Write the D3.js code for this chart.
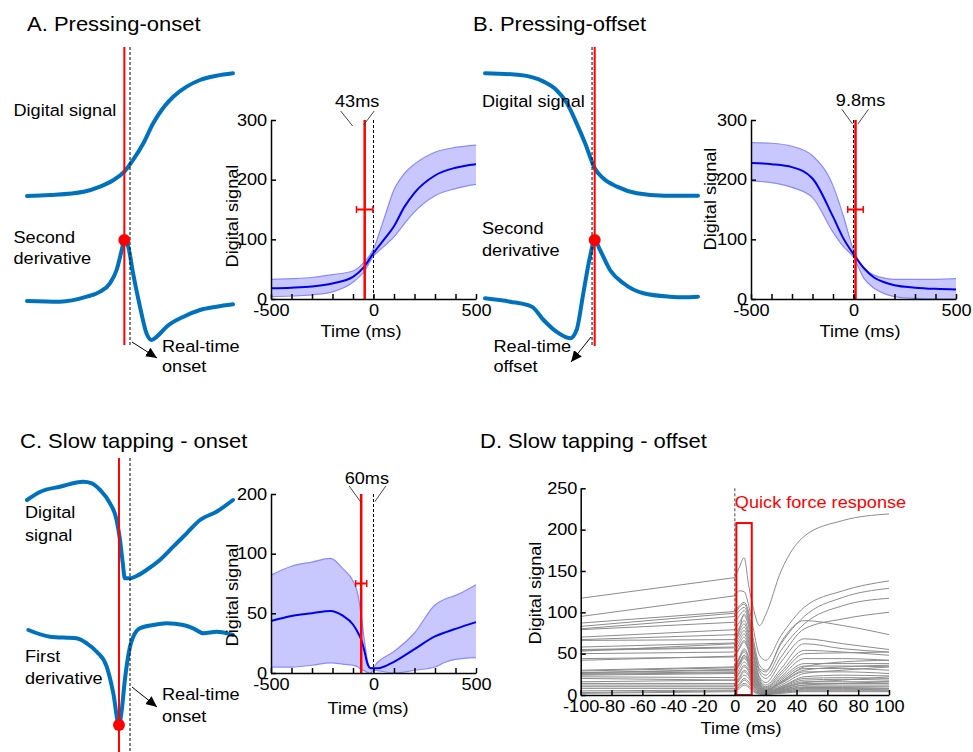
<!DOCTYPE html>
<html>
<head>
<meta charset="utf-8">
<script src="https://cdn.jsdelivr.net/npm/d3@7"></script>
<style>
  body { margin: 0; background: #fff; }
  text { font-family: "Liberation Sans", Arial, sans-serif; }
</style>
</head>
<body>
<svg id="fig" width="973" height="752"></svg>
<script>
// ---------------- data ----------------
// Schematic traces: [sample, amplitude 0-100]
const onsetSignal = [[0,0],[22,0.8],[55,3.5],[71,7.6],[84,13],[94.5,19.8],[103,29.3],[113,42.9],[122.5,59.1],[132,71.3],[142,80.7],[155,88.9],[168,94.3],[184,97.8],[200,99.8]];
const onsetSecondDeriv = [[0,39],[32,38.3],[58,43.3],[71,48.3],[80.5,56.7],[87,70],[92,90],[94.5,100],[98.3,93.3],[103,66.7],[109.7,33.3],[116,6.7],[121,0],[126,3.3],[135.5,13.3],[152,23.3],[168,30],[184,33.3],[200,35.7]];
const offsetSignal = [[0,99.8],[33,98.4],[55,93],[67,86.2],[77,75.4],[86,59.1],[94,42.9],[103,22.5],[111,14.4],[124,7.6],[142.5,2.2],[168,0.2],[200,0.2]];
const offsetSecondDeriv = [[0,41.7],[23.5,38.3],[44,33.3],[55,20],[67,8.3],[80,1.7],[86,10],[92.3,46.7],[98.6,83.3],[103,100],[108,90],[117.4,70],[130,56.7],[148.7,46.7],[173.7,43.3],[186,42.7],[200,43.3]];
const tapSignal = [[0,80],[13,88.3],[32,93.3],[54.7,98.3],[63,96.7],[71,90],[80.6,76.7],[87,60],[90.3,40],[93,16.7],[95,1.7],[100,1.7],[106.5,4],[116,10],[129,20],[142,33.3],[155,46.7],[168,60],[184,68.3],[200,80]];
const tapFirstDeriv = [[1.3,95],[22.3,88.3],[48,86.7],[58,81.7],[67.7,73.3],[77.4,58.3],[83.8,31.7],[89.3,0],[92,15],[95,45],[100,78.3],[103.2,88.3],[109.7,96.7],[122.6,100],[135.6,101.7],[151.7,100],[161.4,96.7],[171.1,91.7],[184.2,93.3],[200,90]];
// detection sample / real-time sample in each schematic
const schemDetect = [94.5, 103, 89.3];
const schemRealtime = [100, 100.5, 100];

// Averaged digital signal (mean and band) around the events
const pressTimes = [-500,-400,-300,-200,-100,-50,0,50,100,150,200,300,400,500];
const onsetMean  = [18,19,21,26,37,52,77,99,122,154,178,207,220,226];
const onsetUpper = [33,34,36,41,47,60,84,133,183,210,226,246,254,258];
const onsetLower = [4,5,7,12,28,44,72,88,104,126,146,173,185,192];
const offsetMean  = [228,226,221,202,138,102,75,52,36,28,23,19,17,16];
const offsetUpper = [262,261,256,240,190,140,82,52,40,35,33,33,33,34];
const offsetLower = [198,195,187,170,112,88,70,35,18,9,4,1,0,0];

const tapTimes = [-500,-400,-300,-210,-150,-100,-75,-60,-45,-30,-15,0,20,100,200,300,350,400,500];
const tapMean  = [43.5,47.7,50,52,48,40.6,33.5,28,19,8,4,4,4,9.4,20,30.7,34,37,42.6];
const tapUpper = [82,89.5,93,96,87.5,77,65,48,28,11,4.5,5,9,18,33.5,57,62,65,74];
const tapLower = [5,5,6.5,8.5,7.5,6.5,5,3,2,0.5,0,2.3,2,0,2.3,5,9,11.4,12.8];

// Detection delay (ms) and its spread, errorbar level
const delays = [-43, 9.8, -60];
const delaySpread = [40, 38, 27];
const errorbarLevel = [150, 150, 75];

// Axis ticks
const pressXTicks = [-500,-400,-300,-200,-100,0,100,200,300,400,500];
const pressXLabels = [-500, 0, 500];
const pressYTicks = [0,100,200,300];
const tapYTicks = [0,50,100,200];
const quickXTicks = [-100,-80,-60,-40,-20,0,20,40,60,80,100];
const quickYTicks = [0,50,100,150,200,250];

// Individual slow-tapping offset traces
const quickTimes = [-100,0,3,6,9,12,16,20,30,45,70,100];
const quickTraces = [
  [117,142,155,166,132,105,84,97,150,192,211,219],
  [95,120,126,125,108,80,48,42,72,106,126,138],
  [87,101,108,112,100,68,36,30,62,95,118,129],
  [83,99,106,110,96,62,30,24,54,86,108,117],
  [80,95,102,106,92,58,27,20,46,80,92,100],
  [79,88,96,102,90,60,32,28,64,90,84,73],
  [53,62,80,98,86,52,22,15,40,68,62,55],
  [70,79,88,96,82,50,20,12,32,62,56,52],
  [67,73,82,90,76,46,18,10,28,54,52,48],
  [66,67,78,86,72,42,16,9,25,50,51,52],
  [58,63,74,82,68,38,14,8,22,44,44,42],
  [55,58,70,78,64,35,13,7,20,38,38,38],
  [54,57,66,74,60,32,12,6,18,35,35,34],
  [50,52,62,70,56,30,11,6,16,32,32,30],
  [44,46,56,64,52,28,10,5,14,28,28,26],
  [42,47,58,66,54,30,12,6,15,30,34,36],
  [30,34,46,56,46,24,9,4,10,22,24,23],
  [29,33,44,52,42,22,8,4,10,20,21,20],
  [27,30,40,48,40,20,7,3,9,18,19,18],
  [26,28,38,46,38,19,7,3,8,16,16,16],
  [24,26,36,44,36,18,6,3,8,15,18,22],
  [22,21,32,40,33,16,6,3,7,14,14,14],
  [20,18,28,36,30,14,5,2,6,12,12,12],
  [16,18,26,34,28,13,5,2,6,12,14,16],
  [14,14,22,30,25,12,4,2,5,10,10,10],
  [12,12,20,28,23,11,4,2,5,9,9,8],
  [10,10,18,24,20,9,3,2,4,8,8,8],
  [8,8,14,20,16,8,3,2,4,7,7,6],
  [5,6,12,18,14,7,2,1,3,6,6,6],
  [3,5,10,14,11,5,2,1,3,5,5,5],
  [2,4,8,12,9,4,1,1,2,4,4,4],
  [27,31,44,54,46,26,12,6,16,34,40,42],
  [25,27,38,48,40,20,9,5,12,26,30,34]
];
const quickWindow = [0, 10];
const quickWindowTop = 208;

// ---------------- drawing ----------------
const svg = d3.select("#fig");
const SX = 1.1;          // horizontal glyph factor
const FS = 16.5;
const BLUE = "#0072BD";

function txt(x, y, s, opt = {}) {
  const { size = FS, anchor = "start", fill = "#000", rot = 0 } = opt;
  return svg.append("text")
    .attr("transform", `translate(${x},${y})` + (rot ? ` rotate(${rot})` : "") + ` scale(${SX},1)`)
    .attr("text-anchor", anchor)
    .attr("font-size", size)
    .attr("fill", fill)
    .text(s);
}

const defs = svg.append("defs");
defs.append("marker").attr("id", "tri")
  .attr("viewBox", "0 0 12 12").attr("refX", 11).attr("refY", 6)
  .attr("markerWidth", 12).attr("markerHeight", 12)
  .attr("markerUnits", "userSpaceOnUse").attr("orient", "auto")
  .append("path").attr("d", "M0,1 L11,6 L0,11 Z").attr("fill", "#000");

// ---- schematics ----
function schematic(cfg) {
  const x = d3.scaleLinear([0, 200], cfg.xr);
  const ys = d3.scaleLinear([0, 100], cfg.sigY);
  const yd = d3.scaleLinear([0, 100], cfg.derY);
  const line = (yy) => d3.line().x(d => x(d[0])).y(d => yy(d[1])).curve(d3.curveMonotoneX);
  const g = svg.append("g");
  g.append("path").attr("d", line(ys)(cfg.sig)).attr("fill", "none")
    .attr("stroke", BLUE).attr("stroke-width", 4).attr("stroke-linecap", "round");
  g.append("path").attr("d", line(yd)(cfg.der)).attr("fill", "none")
    .attr("stroke", BLUE).attr("stroke-width", 4).attr("stroke-linecap", "round");
  const xd = x(cfg.detect), xr = x(cfg.realtime);
  g.append("line").attr("x1", xr).attr("x2", xr).attr("y1", cfg.vl[0]).attr("y2", cfg.vl[1])
    .attr("stroke", "#000").attr("stroke-width", 1).attr("stroke-dasharray", "3,2");
  g.append("line").attr("x1", xd).attr("x2", xd).attr("y1", cfg.vl[0]).attr("y2", cfg.vl[1])
    .attr("stroke", "#f00").attr("stroke-width", 2);
  const pk = cfg.der.find(d => d[0] === cfg.detect);
  g.append("circle").attr("cx", x(pk[0])).attr("cy", yd(pk[1])).attr("r", 6).attr("fill", "#f00");
  // arrow to the real-time marker label
  g.append("line").attr("x1", xr + cfg.arrow[0]).attr("y1", cfg.arrow[1])
    .attr("x2", xr + cfg.arrow[2]).attr("y2", cfg.arrow[3])
    .attr("stroke", "#000").attr("stroke-width", 1).attr("marker-end", "url(#tri)");
}

schematic({ xr: [27, 233], sigY: [196, 73], derY: [340, 240], sig: onsetSignal, der: onsetSecondDeriv,
  detect: schemDetect[0], realtime: schemRealtime[0], vl: [47, 345], arrow: [2, 342, 27, 358] });
schematic({ xr: [485, 698], sigY: [196, 73], derY: [340, 240], sig: offsetSignal, der: offsetSecondDeriv,
  detect: schemDetect[1], realtime: schemRealtime[1], vl: [47, 346], arrow: [-1, 337, -21, 362] });
schematic({ xr: [27, 233], sigY: [580, 480], derY: [725, 625], sig: tapSignal, der: tapFirstDeriv,
  detect: schemDetect[2], realtime: schemRealtime[2], vl: [458, 752], arrow: [2, 687, 27, 707] });

// ---- averaged panels ----
function styleAxis(sel) {
  sel.attr("font-size", null).attr("font-family", null);
  sel.select(".domain").attr("stroke", "#000").attr("stroke-width", 1.5);
  sel.selectAll(".tick line").attr("stroke", "#000").attr("stroke-width", 1.5);
  sel.selectAll(".tick text").attr("font-size", FS).attr("fill", "#000")
    .attr("transform", `scale(${SX},1)`);
}

function avgPanel(cfg) {
  const x = d3.scaleLinear([-500, 500], cfg.xr);
  const y = d3.scaleLinear(cfg.yd, cfg.yr);
  const g = svg.append("g");
  const T = cfg.times;
  const area = d3.area().x((d, i) => x(T[i])).y0((d, i) => y(cfg.lower[i])).y1(d => y(d))
    .curve(d3.curveMonotoneX);
  const ln = d3.line().x((d, i) => x(T[i])).y(d => y(d)).curve(d3.curveMonotoneX);
  g.append("path").attr("d", area(cfg.upper)).attr("fill", "#c8c8ff");
  g.append("path").attr("d", ln(cfg.upper)).attr("fill", "none").attr("stroke", "#8a8aff").attr("stroke-width", 1.2);
  g.append("path").attr("d", ln(cfg.lower)).attr("fill", "none").attr("stroke", "#8a8aff").attr("stroke-width", 1.2);
  g.append("path").attr("d", ln(cfg.mean)).attr("fill", "none").attr("stroke", "#0000f0").attr("stroke-width", 2);

  const yTop = cfg.yr[cfg.yr.length - 1], yBot = cfg.yr[0];
  const x0 = x(0), xd = x(cfg.delay);
  g.append("line").attr("x1", x0).attr("x2", x0).attr("y1", yTop).attr("y2", yBot)
    .attr("stroke", "#000").attr("stroke-width", 1).attr("stroke-dasharray", "3,2");
  g.append("line").attr("x1", xd).attr("x2", xd).attr("y1", yTop).attr("y2", yBot)
    .attr("stroke", "#f00").attr("stroke-width", 2.5);
  // errorbar of the detection delay
  const ey = y(cfg.ebLevel), ex1 = x(cfg.delay - cfg.spread), ex2 = x(cfg.delay + cfg.spread);
  g.append("line").attr("x1", ex1).attr("x2", ex2).attr("y1", ey).attr("y2", ey).attr("stroke", "#f00").attr("stroke-width", 2);
  [ex1, ex2].forEach(v => g.append("line").attr("x1", v).attr("x2", v).attr("y1", ey - 3.5).attr("y2", ey + 3.5)
    .attr("stroke", "#f00").attr("stroke-width", 1.5));

  g.append("g").attr("transform", `translate(0,${yBot})`)
    .call(d3.axisBottom(x).tickValues(pressXTicks).tickSizeInner(-5).tickSizeOuter(0).tickPadding(5)
      .tickFormat(d => pressXLabels.includes(d) ? String(d) : ""))
    .call(styleAxis);
  g.append("g").attr("transform", `translate(${cfg.xr[0]},0)`)
    .call(d3.axisLeft(y).tickValues(cfg.yTicks).tickSizeInner(-5).tickSizeOuter(0).tickPadding(3.5)
      .tickFormat(d => String(d)))
    .call(styleAxis);

  txt(cfg.ylab[0], cfg.ylab[1], "Digital signal", { anchor: "middle", rot: -90 }).attr("dy", "0.35em");
  txt(cfg.xlab[0], cfg.xlab[1], "Time (ms)", { anchor: "middle" });

  // delay annotation
  const a = cfg.ann;
  txt(xd + a.tx, a.ty, `${Math.abs(cfg.delay)}ms`, { anchor: "middle" });
  const L = a.lines;
  L.forEach(l => g.append("line")
    .attr("x1", xd + l[0]).attr("y1", yTop + l[1]).attr("x2", xd + l[2]).attr("y2", yTop + l[3])
    .attr("stroke", "#333").attr("stroke-width", 0.9));
}

avgPanel({ xr: [271, 476], yd: [0, 300], yr: [299, 120], times: pressTimes,
  mean: onsetMean, upper: onsetUpper, lower: onsetLower, delay: delays[0], spread: delaySpread[0],
  ebLevel: errorbarLevel[0], yTicks: pressYTicks, ylab: [232, 216], xlab: [361, 337],
  ann: { tx: -7.5, ty: 106.5, lines: [[-24, -9, -12, 6], [9.5, -9, -1, 5]] } });

avgPanel({ xr: [751, 956], yd: [0, 300], yr: [299, 120], times: pressTimes,
  mean: offsetMean, upper: offsetUpper, lower: offsetLower, delay: delays[1], spread: delaySpread[1],
  ebLevel: errorbarLevel[1], yTicks: pressYTicks, ylab: [710, 199], xlab: [860, 337],
  ann: { tx: 5, ty: 106, lines: [[-13.6, -10.7, -3, 4], [13, -10.7, 2.4, 4]] } });

avgPanel({ xr: [271, 476], yd: [0, 50, 100, 200], yr: [673, 613.3, 553.7, 494], times: tapTimes,
  mean: tapMean, upper: tapUpper, lower: tapLower, delay: delays[2], spread: delaySpread[2],
  ebLevel: errorbarLevel[2], yTicks: tapYTicks, ylab: [232, 595], xlab: [368, 713.5],
  ann: { tx: 5.6, ty: 484, lines: [[-12, -8, 0, 8.7], [24.6, -8, 13.6, 7.7]] } });

// ---- individual traces around slow-tapping offset ----
(function () {
  const x = d3.scaleLinear([-100, 100], [580.7, 889]);
  const y = d3.scaleLinear([0, 250], [695, 488.3]);
  const g = svg.append("g");
  const pre = d3.line().x((d, i) => x(quickTimes[i])).y(d => y(d));
  const post = d3.line().x((d, i) => x(quickTimes[i + 1])).y(d => y(d)).curve(d3.curveMonotoneX);
  quickTraces.forEach(tr => {
    g.append("path").attr("d", pre(tr.slice(0, 2))).attr("fill", "none")
      .attr("stroke", "#8c8c8c").attr("stroke-width", 1);
    g.append("path").attr("d", post(tr.slice(1))).attr("fill", "none")
      .attr("stroke", "#8c8c8c").attr("stroke-width", 1);
  });
  g.append("line").attr("x1", x(0)).attr("x2", x(0)).attr("y1", y(250)).attr("y2", y(0))
    .attr("stroke", "#444").attr("stroke-width", 1).attr("stroke-dasharray", "3,2");
  g.append("rect").attr("x", x(quickWindow[0]) + 1.5).attr("y", y(quickWindowTop))
    .attr("width", x(quickWindow[1]) - x(quickWindow[0])).attr("height", y(0) - y(quickWindowTop))
    .attr("fill", "none").attr("stroke", "#f00").attr("stroke-width", 2);

  g.append("g").attr("transform", `translate(0,${y(0)})`)
    .call(d3.axisBottom(x).tickValues(quickXTicks).tickSizeInner(-5).tickSizeOuter(0).tickPadding(5)
      .tickFormat(d => String(d)))
    .call(styleAxis);
  g.append("g").attr("transform", `translate(${x(-100)},0)`)
    .call(d3.axisLeft(y).tickValues(quickYTicks).tickSizeInner(-5).tickSizeOuter(0).tickPadding(3)
      .tickFormat(d => String(d)))
    .call(styleAxis);
  txt(x(quickWindow[0]), 507.5, "Quick force response", { fill: "#f00" });
  txt(535, 593, "Digital signal", { anchor: "middle", rot: -90 }).attr("dy", "0.35em");
  txt(741, 733.5, "Time (ms)", { anchor: "middle" });
})();

// ---- titles and schematic labels ----
txt(27, 31, "A. Pressing-onset", { size: 20 });
txt(473, 31, "B. Pressing-offset", { size: 20 });
txt(20, 448, "C. Slow tapping - onset", { size: 20 });
txt(480, 448, "D. Slow tapping - offset", { size: 20 });

txt(13.5, 116, "Digital signal");
txt(13.5, 242.5, "Second");
txt(13.5, 264, "derivative");
txt(162, 351.5, "Real-time");
txt(162, 372, "onset");

txt(482, 106.5, "Digital signal");
txt(482, 234, "Second");
txt(482, 256, "derivative");
txt(493.5, 351.5, "Real-time");
txt(493.5, 372, "offset");

txt(25, 518, "Digital");
txt(25, 540.5, "signal");
txt(25, 662, "First");
txt(25, 683.5, "derivative");
txt(162, 700, "Real-time");
txt(162, 721.5, "onset");
</script>
</body>
</html>
